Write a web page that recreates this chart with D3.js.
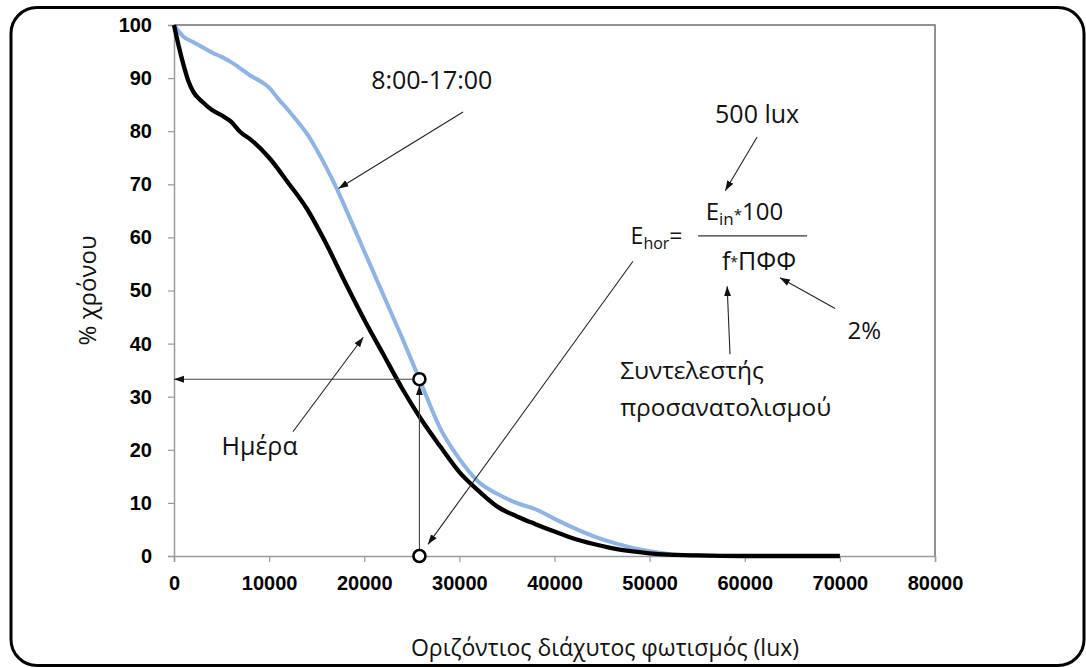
<!DOCTYPE html>
<html>
<head>
<meta charset="utf-8">
<script src="https://cdn.jsdelivr.net/npm/d3@7"></script>
<style>
  html, body { margin: 0; padding: 0; background: #fff; }
  svg { display: block; }
</style>
</head>
<body>
<svg id="chart" width="1086" height="668"></svg>
<script>
// ---------- data ----------
const xTicks = [0, 10000, 20000, 30000, 40000, 50000, 60000, 70000, 80000];
const yTicks = [0, 10, 20, 30, 40, 50, 60, 70, 80, 90, 100];

const dayX = [0, 500, 1000, 1500, 2000, 3000, 4000, 5000, 6000, 7000, 8000, 10000, 12000, 14000, 16000, 18000, 20000, 22000, 24000, 26000, 28000, 30000, 32000, 34000, 36000, 38000, 40000, 42000, 44000, 46000, 48000, 50000, 52000, 55000, 60000, 70000];
const dayY = [100, 96, 92.5, 89.5, 87.5, 85.5, 84, 83, 81.8, 79.8, 78.5, 75, 70.3, 65.3, 58.8, 51.5, 44.5, 38, 31.5, 25.7, 20.6, 15.8, 12.3, 9.3, 7.5, 6, 4.6, 3.3, 2.3, 1.5, 0.9, 0.5, 0.25, 0.1, 0, 0];

const workX = [0, 1000, 2000, 3000, 4000, 5000, 6000, 7000, 8000, 9000, 10000, 11000, 12000, 13000, 14000, 15000, 16000, 17000, 18000, 20000, 22000, 24000, 25800, 28000, 30000, 32000, 34000, 36000, 38000, 40000, 42000, 44000, 46000, 48000, 50000, 52000, 55000, 60000, 70000];
const workY = [100, 97.8, 96.8, 95.8, 94.8, 94, 93, 91.8, 90.5, 89.5, 88.2, 86, 84, 81.8, 79.5, 76.5, 73.2, 69.6, 65.6, 57.4, 49.2, 41, 33.3, 24, 18.3, 14, 11.7, 10, 8.8, 7, 5.3, 3.8, 2.6, 1.6, 0.9, 0.4, 0.1, 0, 0];

// example point read on the curve
const exampleX = 25800;
const exampleY = 33.3;

// ---------- layout ----------
const svg = d3.select("#chart");
const L = 174, R = 935, T = 25, B = 556;
const x = d3.scaleLinear().domain([0, 80000]).range([L, R]);
const y = d3.scaleLinear().domain([0, 100]).range([B, T]);

// outer rounded frame
svg.append("rect")
  .attr("x", 11).attr("y", 7.5).attr("width", 1073).attr("height", 658)
  .attr("rx", 26).attr("ry", 26)
  .attr("fill", "none").attr("stroke", "#000").attr("stroke-width", 3);

// plot box (top & right)
svg.append("path")
  .attr("d", `M${L},${T}H${R}V${B}`)
  .attr("fill", "none").attr("stroke", "#6e6e6e").attr("stroke-width", 1.5);

// axes
const tickFont = "'Liberation Sans', Arial, sans-serif";
const xAxis = svg.append("g").attr("transform", `translate(0,${B})`)
  .call(d3.axisBottom(x).tickValues(xTicks).tickFormat(d3.format("d")).tickSize(6).tickPadding(14));
const yAxis = svg.append("g").attr("transform", `translate(${L},0)`)
  .call(d3.axisLeft(y).tickValues(yTicks).tickFormat(d3.format("d")).tickSize(6).tickPadding(16));
[xAxis, yAxis].forEach(a => {
  a.select(".domain").attr("stroke", "#9a9a9a").attr("stroke-width", 1.5);
  a.selectAll(".tick line").attr("stroke", "#9a9a9a").attr("stroke-width", 1.2);
  a.selectAll(".tick text")
    .attr("fill", "#000")
    .style("font-family", tickFont)
    .style("font-weight", "bold")
    .style("font-size", "20px");
});
xAxis.selectAll(".tick text").attr("dy", "0.71em");

// lines
const line = d3.line().x(d => x(d[0])).y(d => y(d[1])).curve(d3.curveMonotoneX);
svg.append("path")
  .datum(d3.zip(workX, workY))
  .attr("d", line).attr("fill", "none")
  .attr("stroke", "#8db4e2").attr("stroke-width", 4).attr("stroke-linejoin", "round");
svg.append("path")
  .datum(d3.zip(dayX, dayY))
  .attr("d", line).attr("fill", "none")
  .attr("stroke", "#000").attr("stroke-width", 4.3).attr("stroke-linejoin", "round");

// arrow marker
const defs = svg.append("defs");
defs.append("marker")
  .attr("id", "arr").attr("viewBox", "0 0 10 10")
  .attr("refX", 10).attr("refY", 5)
  .attr("markerWidth", 10).attr("markerHeight", 10)
  .attr("markerUnits", "userSpaceOnUse")
  .attr("orient", "auto")
  .append("path").attr("d", "M0,1.5 L10,5 L0,8.5 Z").attr("fill", "#111");

function arrow(x1, y1, x2, y2, color) {
  svg.append("line")
    .attr("x1", x(x1)).attr("y1", y(y1)).attr("x2", x(x2)).attr("y2", y(y2))
    .attr("stroke", color || "#222").attr("stroke-width", 1.1)
    .attr("marker-end", "url(#arr)");
}

// reading lines for example point
arrow(exampleX, exampleY, 0, exampleY, "#444");
svg.append("line")
  .attr("x1", x(exampleX)).attr("y1", y(0) - 6).attr("x2", x(exampleX)).attr("y2", y(exampleY) + 6)
  .attr("stroke", "#444").attr("stroke-width", 1.1).attr("marker-end", "url(#arr)");

// annotations (anchored in data units)
const textFont = "'Open Sans', 'Noto Sans', sans-serif";
function label(xv, yv, txt, anchor, size) {
  return svg.append("text")
    .attr("x", x(xv)).attr("y", y(yv))
    .attr("text-anchor", anchor || "start")
    .style("font-family", textFont).style("font-size", (size || 24) + "px")
    .attr("fill", "#111").text(txt);
}

label(27100, 87.9, "8:00-17:00", "middle", 25);
arrow(30380, 83.6, 17300, 69.2);

label(9000, 19.0, "Ημέρα", "middle", 25);
arrow(12500, 23.4, 19900, 41.2);

// formula
const eh = svg.append("text").attr("x", x(48000)).attr("y", y(58.8))
  .style("font-family", textFont).style("font-size", "23px").attr("fill", "#111");
eh.append("tspan").text("E");
eh.append("tspan").attr("dy", 5).style("font-size", "16px").text("hor");
eh.append("tspan").attr("dy", -5).text("=");

const num = svg.append("text").attr("x", x(55900)).attr("y", y(63.3))
  .style("font-family", textFont).style("font-size", "24px").attr("fill", "#111");
num.append("tspan").text("E");
num.append("tspan").attr("dy", 5).style("font-size", "17px").text("in");
num.append("tspan").attr("dy", -5).style("font-size", "15px").text("*");
num.append("tspan").text("100");

svg.append("line")
  .attr("x1", x(55100)).attr("x2", x(66550)).attr("y1", y(60.3)).attr("y2", y(60.3))
  .attr("stroke", "#333").attr("stroke-width", 1.2);

const den = svg.append("text").attr("x", x(57600)).attr("y", y(53.9))
  .style("font-family", textFont).style("font-size", "25px").attr("fill", "#111");
den.append("tspan").text("f");
den.append("tspan").style("font-size", "14px").attr("dy", -3).text("*");
den.append("tspan").attr("dy", 3).text("ΠΦΦ");

label(61300, 81.5, "500 lux", "middle", 25);
arrow(61300, 78.9, 57950, 68.8);

label(70800, 40.9, "2%", "start", 24);
arrow(69500, 46.6, 63700, 52.4);

// E_hor to bottom point
arrow(48250, 55.5, 26700, 2.2);

label(46900, 33.4, "Συντελεστής", "start", 24.5);
label(46900, 26.3, "προσανατολισμού", "start", 24.5);
arrow(58450, 38.0, 58150, 50.8);

// example point circles
[[exampleX, exampleY], [exampleX, 0]].forEach(p => {
  svg.append("circle").attr("cx", x(p[0])).attr("cy", y(p[1])).attr("r", 6)
    .attr("fill", "#fff").attr("stroke", "#000").attr("stroke-width", 2.6);
});

// axis titles
svg.append("text")
  .attr("transform", `translate(96,${(T + B) / 2}) rotate(-90)`)
  .attr("text-anchor", "middle")
  .style("font-family", textFont).style("font-size", "24px").attr("fill", "#111")
  .text("% χρόνου");
svg.append("text")
  .attr("x", 605).attr("y", 656)
  .attr("text-anchor", "middle")
  .style("font-family", textFont).style("font-size", "23px").attr("fill", "#111")
  .text("Οριζόντιος διάχυτος φωτισμός (lux)");
</script>
</body>
</html>
